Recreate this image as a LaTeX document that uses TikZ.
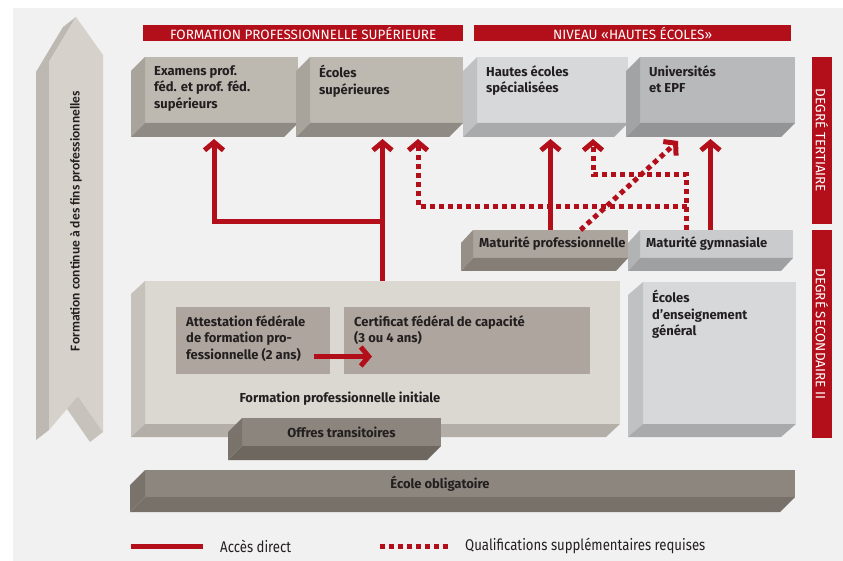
\documentclass[tikz,border=0pt]{standalone}
\usepackage{fontspec}
\setmainfont{Fira Sans}
\newfontfamily\condfont[FakeStretch=0.85]{Fira Sans}
\newfontfamily\calfont{Carlito}
\usetikzlibrary{arrows.meta}
\definecolor{bggrey}{HTML}{F1F1F1}
\definecolor{cred}{HTML}{B30F1B}
\definecolor{ink}{HTML}{231F20}
\definecolor{beigeF}{HTML}{BDB8B0}
\definecolor{beigeS}{HTML}{A8A39B}
\definecolor{beigeB}{HTML}{8F8A83}
\definecolor{paleF}{HTML}{D7D8DA}
\definecolor{paleS}{HTML}{C0C1C3}
\definecolor{paleB}{HTML}{A9AAAC}
\definecolor{midF}{HTML}{B8B9BB}
\definecolor{midS}{HTML}{A2A3A5}
\definecolor{midB}{HTML}{939496}
\definecolor{mpF}{HTML}{ACA59D}
\definecolor{mpS}{HTML}{968F88}
\definecolor{mpB}{HTML}{857E77}
\definecolor{mgF}{HTML}{CACBCD}
\definecolor{mgS}{HTML}{B2B3B5}
\definecolor{mgB}{HTML}{9FA0A2}
\definecolor{fpiF}{HTML}{DBD8D1}
\definecolor{fpiS}{HTML}{C6C2BB}
\definecolor{fpiB}{HTML}{B3AFA8}
\definecolor{innerF}{HTML}{AEA69E}
\definecolor{otF}{HTML}{8C857D}
\definecolor{otS}{HTML}{7A736B}
\definecolor{otB}{HTML}{6D6760}
\definecolor{eoF}{HTML}{8D867E}
\definecolor{eoS}{HTML}{7A736C}
\definecolor{eoB}{HTML}{78716A}
\definecolor{arrF}{HTML}{D6D2CB}
\definecolor{arrS}{HTML}{BDB9B2}
\definecolor{arrN}{HTML}{C7C2BB}
% left and bottom faces of a slab: node, side colour, bottom colour, depth
\newcommand{\slabfaces}[4]{%
\fill[#2] (#1.north west) -- ++(#4) -- ([shift={(#4)}]#1.south west) -- (#1.south west) -- cycle;
\fill[#3] (#1.south west) -- ([shift={(#4)}]#1.south west) -- ([shift={(#4)}]#1.south east) -- (#1.south east) -- cycle;}
\begin{document}
\begin{tikzpicture}[x=1pt,y=-1pt,
  direct/.style={draw=cred, line width=5pt, -{Straight Barb[length=8pt,width=19pt]}},
  extra/.style={direct, dash pattern=on 5pt off 4pt},
  slab/.style={fill=#1, anchor=north west, inner sep=0pt, outer sep=0pt},
  boxtext/.style={anchor=north west, align=left, inner sep=0pt, text=ink,
    font=\bfseries\fontsize{13}{16.5}\selectfont},
  band/.style={fill=cred, text=white, inner sep=0pt, font=\fontsize{13.5}{13.5}\selectfont},
  legtext/.style={anchor=west, inner sep=0pt, text=ink, font=\condfont\fontsize{15.5}{15.5}\selectfont}]
\fill[white] (0,0) rectangle (843,561);
\fill[bggrey] (13,8) rectangle (843,561);
\fill[arrS] (36,72) -- (63,27) -- (76,17) -- (49,62) -- (49,430) -- (36,440) -- cycle;
\fill[arrN] (78,396) -- (103,432) -- (90,442) -- (65,406) -- cycle;
\fill[arrF] (49,62) -- (76,17) -- (103,55) -- (103,432) -- (78,396) -- (49,430) -- cycle;
\node[rotate=90, inner sep=0pt, text=ink, font=\calfont\bfseries\fontsize{13.5}{13.5}\selectfont] (fcfp) at (76,221) {Formation continue à des fins professionnelles};
\node[band, anchor=north west, minimum width=320pt, minimum height=16pt] (fps) at (143,25) {FORMATION PROFESSIONNELLE SUPÉRIEURE};
\node[band, anchor=north west, minimum width=317pt, minimum height=16pt] (nhe) at (474,25) {NIVEAU «HAUTES ÉCOLES»};
\node[band, rotate=-90, minimum width=167pt, minimum height=20pt] (dt) at (822,140.5) {DEGRÉ TERTIAIRE};
\node[band, rotate=-90, minimum width=208pt, minimum height=20pt] (ds) at (822,334) {DEGRÉ SECONDAIRE II};
\foreach \nm/\x/\w/\tone/\txt in {eps/145/153/beige/{Examens prof.\\féd. et prof. féd.\\supérieurs},
  es/310/153/beige/{Écoles\\supérieures}, hes/477/151/pale/{Hautes écoles\\spécialisées},
  uni/640/155/mid/{Universités\\et EPF}}
{
\node[slab=\tone F, minimum width=\w pt, minimum height=66pt] (\nm) at (\x,57) {};
\slabfaces{\nm}{\tone S}{\tone B}{-14,14}
\node[boxtext] (\nm-t) at ([shift={(9,8)}]\nm.north west) {\txt};
}
\node[slab=mpF, minimum width=155pt, minimum height=28pt] (mp) at (473,230) {};
\slabfaces{mp}{mpS}{mpB}{-12,13}
\node[boxtext, anchor=west] (mp-t) at ([xshift=6pt]mp.west) {Maturité professionnelle};
\node[slab=mgF, minimum width=153pt, minimum height=28pt] (mg) at (640,230) {};
\slabfaces{mg}{mgS}{mgB}{-12,13}
\node[boxtext, anchor=west] (mg-t) at ([xshift=6pt]mg.west) {Maturité gymnasiale};
\node[slab=fpiF, minimum width=475pt, minimum height=143pt] (fpi) at (145,281) {};
\slabfaces{fpi}{fpiS}{fpiB}{-14,13}
\node[slab=innerF, minimum width=154pt, minimum height=67pt] (afp) at (176,307) {};
\node[boxtext] (afp-t) at ([shift={(10,8)}]afp.north west) {Attestation fédérale\\de formation pro-\\fessionnelle (2 ans)};
\node[slab=innerF, minimum width=246pt, minimum height=67pt] (cfc) at (344,307) {};
\node[boxtext] (cfc-t) at ([shift={(10,8)}]cfc.north west) {Certificat fédéral de capacité\\(3 ou 4 ans)};
\node[boxtext, anchor=center] (fpi-t) at (340,399) {Formation professionnelle initiale};
\node[slab=otF, minimum width=199pt, minimum height=28pt] (ot) at (242,418) {};
\slabfaces{ot}{otS}{otB}{-14,14}
\node[boxtext, anchor=center] (ot-t) at (ot.center) {Offres transitoires};
\node[slab=paleF, minimum width=153pt, minimum height=142pt] (eeg) at (643,282) {};
\slabfaces{eeg}{paleS}{paleB}{-15,13}
\node[boxtext] (eeg-t) at ([shift={(9,8)}]eeg.north west) {Écoles\\d’enseignement\\général};
\node[slab=eoF, minimum width=650pt, minimum height=27pt] (eo) at (145,470) {};
\slabfaces{eo}{eoS}{eoB}{-15,15}
\node[boxtext, anchor=center] (eo-t) at (440,484) {École obligatoire};
\coordinate (tips) at (0,139);
\coordinate (fork) at (214,222);
\coordinate (hop) at (593,175);
\coordinate (hop2) at (418,207);
\coordinate (diag) at (678,141);
\draw[direct] (fpi.north) -- (fpi.north |- tips);
\draw[direct] (fpi.north |- fork) -| (fork |- tips);
\draw[direct] (mp.north) -- (mp.north |- tips);
\draw[direct] ([xshift=-6pt]mg.north) -- ([xshift=-6pt]mg.north |- tips);
\draw[extra] ([xshift=-30pt]mg.north) |- (hop) -- (hop |- tips);
\draw[extra] ([xshift=-30pt]mg.north |- hop2) -- (hop2) -- (hop2 |- tips);
\draw[extra] ([xshift=30pt]mp.north) -- (diag);
\draw[direct] ([shift={(-16,16)}]afp.east) -- ([shift={(28,16)}]cfc.west);
\node[legtext] (ad) at (220,546) {Accès direct};
\node[legtext] (qsr) at (465,546) {Qualifications supplémentaires requises};
\draw[cred, line width=5pt] ([xshift=-89pt]ad.west) -- ([xshift=-17pt]ad.west);
\draw[cred, line width=5pt, dash pattern=on 5pt off 4pt] ([xshift=-85pt]qsr.west) -- ([xshift=-16pt]qsr.west);
\end{tikzpicture}
\end{document}
